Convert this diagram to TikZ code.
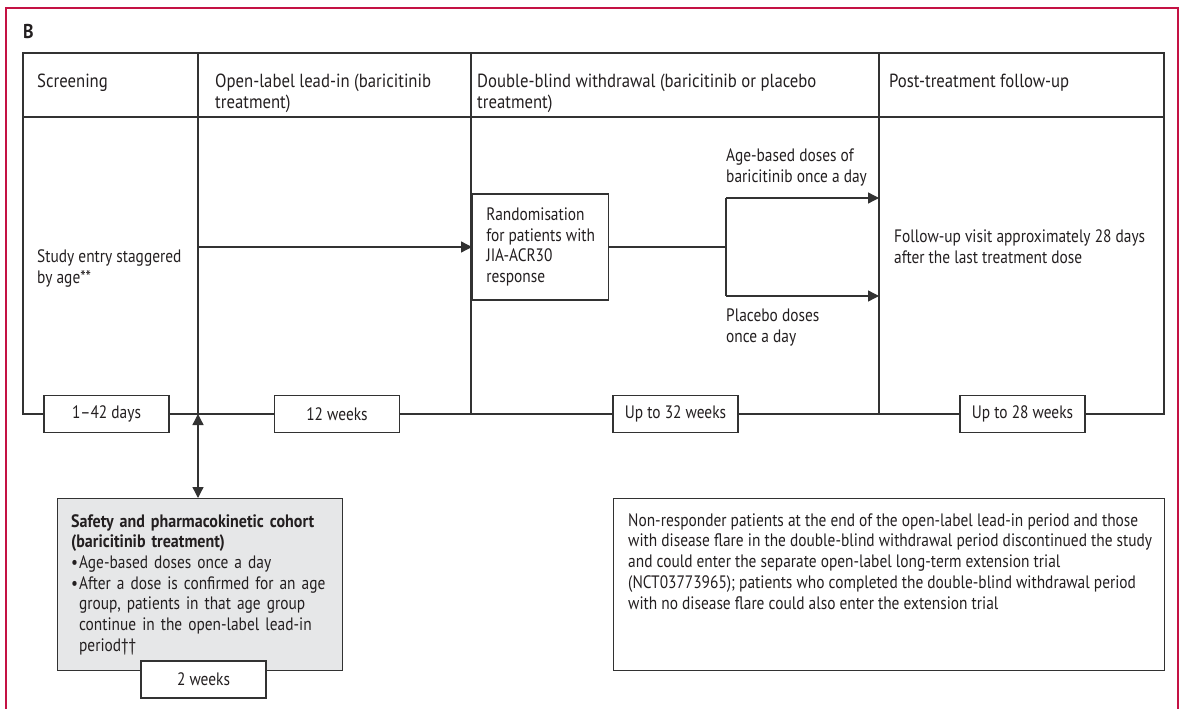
\documentclass[tikz,border=0pt]{standalone}
\usepackage{fontspec}
\setmainfont{PT Sans}[FakeStretch=0.855, BoldFeatures={FakeStretch=0.89}]
\newfontfamily\headfont{PT Sans}[FakeStretch=0.88]
\usetikzlibrary{arrows.meta}

\definecolor{lancetred}{RGB}{196,18,68}
\definecolor{rulegray}{RGB}{50,50,50}
\definecolor{inkgray}{RGB}{35,31,32}
\definecolor{cohortgray}{RGB}{230,231,232}

\tikzset{
  rule/.style={draw=rulegray, line width=1.3pt},
  bodytext/.style={anchor=base west, align=left, inner sep=0pt, text=inkgray,
    font=\fontsize{18}{20.7}\selectfont},
  headtext/.style={bodytext, font=\headfont\fontsize{19}{20.7}\selectfont},
  durbox/.style={rule, fill=white, minimum width=125pt, minimum height=37pt,
    inner sep=0pt, text=inkgray, font=\fontsize{18}{20.7}\selectfont},
  flow/.style={rule, -{Triangle[length=11pt,width=11pt]}},
  twoway/.style={rule, {Triangle[length=11pt,width=11pt]}-{Triangle[length=11pt,width=11pt]}},
}

\begin{document}
\begin{tikzpicture}[x=1pt,y=-1pt]
  \useasboundingbox (0,0) rectangle (1183,709);
  % panel frame and letter
  \draw[lancetred, line width=1.2pt] (6,709) -- (6,8) -- (1178,8) -- (1178,709);
  \node[anchor=base west, inner sep=0pt, text=inkgray,
    font=\fontsize{20}{24}\selectfont\bfseries] (panel) at (23,39) {B};

  % phase table
  \draw[rule] (23,53) rectangle (1164,414);
  \draw[rule] (23,117) -- (1164,117);
  \foreach \x in {198,471,879}
    \draw[rule] (\x,53) -- (\x,414);

  % column heads (base = last line)
  \node[headtext] (screenhead) at (37,88) {Screening};
  \node[headtext] (leadinhead) at (215,108) {Open-label lead-in (baricitinib\\treatment)};
  \node[headtext] (withdrawhead) at (477,108) {Double-blind withdrawal (baricitinib or placebo\\treatment)};
  \node[headtext] (followhead) at (889,88) {Post-treatment follow-up};

  % flow through the phases
  \node[bodytext] (entry) at (37,283) {Study entry staggered\\by age**};
  \node[rule, fill=white, anchor=west, align=left, inner xsep=0pt, minimum width=136pt,
    minimum height=106pt, text=inkgray, font=\fontsize{18}{20.7}\selectfont]
    (random) at (472,247) {Randomisation\\for patients with\\JIA-ACR30\\response};
  \coordinate (leadstart) at (198,247);
  \draw[flow] (leadstart) -- (random.west);

  \coordinate (split) at (726,247);
  \coordinate (armtop) at (726,198);
  \coordinate (armbot) at (726,296);
  \coordinate (bariend) at (879,198);
  \coordinate (placend) at (879,296);
  \draw[rule] (random.east) -- (split);
  \draw[rule] (armtop) -- (armbot);
  \draw[flow] (armtop) -- (bariend);
  \draw[flow] (armbot) -- (placend);
  \node[bodytext] (bari) at (726,182) {Age-based doses of\\baricitinib once a day};
  \node[bodytext] (placebo) at (726,342) {Placebo doses\\once a day};
  \node[bodytext] (visit) at (894,263) {Follow-up visit approximately 28 days\\after the last treatment dose};

  % durations
  \node[durbox] (screendur) at (106.5,414) {1--42 days};
  \node[durbox] (leadindur) at (337,414) {12 weeks};
  \node[durbox] (withdrawdur) at (675.5,414) {Up to 32 weeks};
  \node[durbox] (followdur) at (1022.5,414) {Up to 28 weeks};

  % safety and pharmacokinetic cohort
  \node[rule, fill=cohortgray, anchor=north west, minimum width=285pt, minimum height=172pt,
    text width=258pt, inner xsep=13.5pt, align=left, text=inkgray,
    font=\fontsize{18}{20.7}\selectfont] (cohort) at (57,498)
    {\textbf{Safety and pharmacokinetic cohort}\\
     \textbf{(baricitinib treatment)}\\
     \makebox[8pt][l]{•}Age-based doses once a day\\
     \makebox[8pt][l]{•}After a dose is confirmed for an age\\
     \hspace*{8pt}group, patients in that age group\\
     \hspace*{8pt}continue in the open-label lead-in\\
     \hspace*{8pt}period††};
  \coordinate (cohortlink) at (198,414);
  \draw[twoway] (cohortlink) -- (cohortlink |- cohort.north);
  \node[durbox] (cohortdur) at (203.5,679.5) {2 weeks};

  % note on extension trial
  \node[rule, anchor=north west, minimum width=551pt, minimum height=172pt] (notebox) at (613,498) {};
  \node[bodytext] (notetext) at (628,609)
    {Non-responder patients at the end of the open-label lead-in period and those\\
     with disease flare in the double-blind withdrawal period discontinued the study\\
     and could enter the separate open-label long-term extension trial\\
     (NCT03773965); patients who completed the double-blind withdrawal period\\
     with no disease flare could also enter the extension trial};
\end{tikzpicture}
\end{document}
